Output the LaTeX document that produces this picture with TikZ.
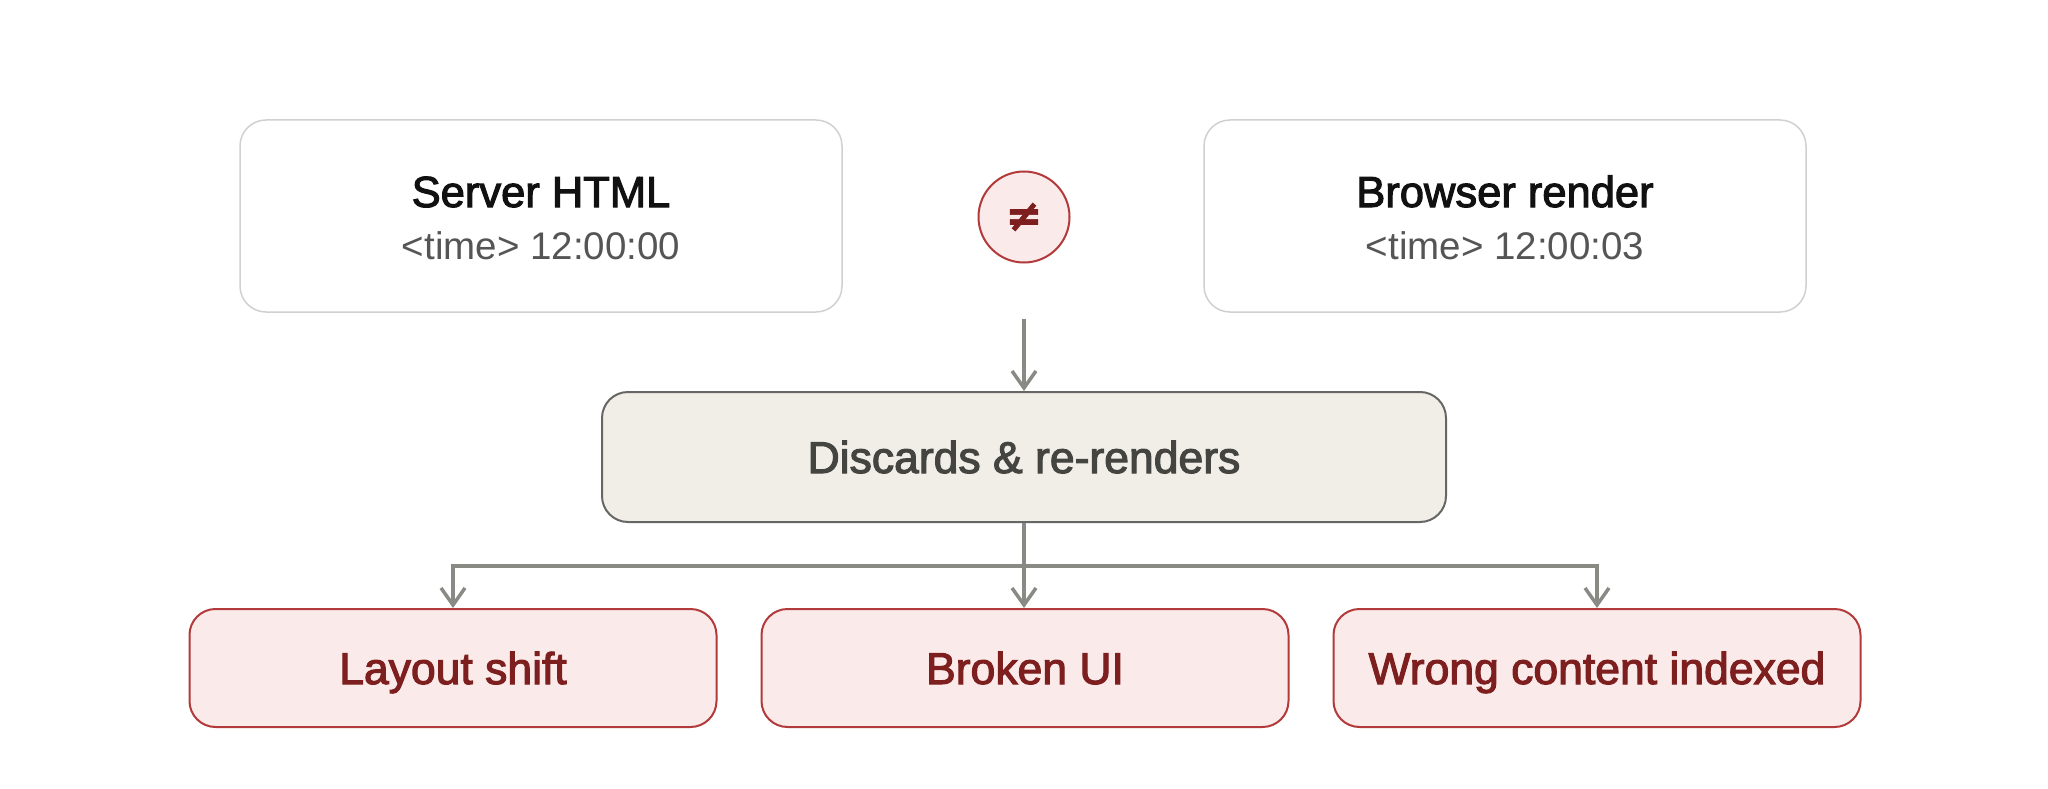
\documentclass[tikz,border=0pt]{standalone}
\usepackage{fontspec}
\setmainfont{Liberation Sans}
\newfontfamily\medfont[FakeBold=2.5]{Liberation Sans}
\newfontfamily\symfont[FakeBold=1.5]{DejaVu Sans Bold}
\usetikzlibrary{arrows.meta}
\definecolor{topborder}{HTML}{D0D0D0}
\definecolor{titlecol}{HTML}{111111}
\definecolor{subcol}{HTML}{555555}
\definecolor{pinkfill}{HTML}{FBEAEA}
\definecolor{redborder}{HTML}{B23A3A}
\definecolor{redtext}{HTML}{7D1F1F}
\definecolor{beigefill}{HTML}{F1EEE8}
\definecolor{beigeborder}{HTML}{666664}
\definecolor{beigetext}{HTML}{444441}
\definecolor{arrowcol}{HTML}{8A8A85}
\tikzset{
  captext/.style={text height=32pt, text depth=0pt},
  topbox/.style={draw=topborder, line width=1.5pt, fill=white, rounded corners=26pt,
    minimum width=602pt, minimum height=192pt, inner sep=0pt},
  midbox/.style={draw=beigeborder, line width=2pt, fill=beigefill, rounded corners=26pt,
    minimum width=844pt, minimum height=130pt, inner sep=0pt, captext,
    font=\medfont\fontsize{44.5pt}{50pt}\selectfont, text=beigetext},
  effbox/.style={draw=redborder, line width=2pt, fill=pinkfill, rounded corners=26pt,
    minimum width=527pt, minimum height=118pt, inner sep=0pt, captext,
    font=\medfont\fontsize{44.5pt}{50pt}\selectfont, text=redtext},
  neqcircle/.style={circle, draw=redborder, line width=2pt, fill=pinkfill,
    minimum size=91pt, inner sep=0pt, font=\symfont\fontsize{44pt}{50pt}\selectfont, text=redtext},
  titletext/.style={font=\medfont\fontsize{43.5pt}{50pt}\selectfont, text=titlecol, inner sep=0pt, captext},
  subtext/.style={font=\fontsize{38.5pt}{44pt}\selectfont, text=subcol, inner sep=0pt, text height=28pt, text depth=0pt},
  flow/.style={draw=arrowcol, line width=3.5pt, -{Straight Barb[length=17pt,width=24pt]}},
}
\begin{document}
\begin{tikzpicture}[x=1pt,y=-1pt]
\useasboundingbox (0,0) rectangle (2048,789);
\node[topbox] (server) at (541,216) {};
\node[titletext] (servertitle) at (541,191) {Server HTML};
\node[subtext] (serversub) at (541,245) {<time> 12:00:00};
\node[topbox] (browser) at (1505,216) {};
\node[titletext] (browsertitle) at (1505,191) {Browser render};
\node[subtext] (browsersub) at (1505,245) {<time> 12:00:03};
\node[neqcircle] (neq) at (1024,217) {≠};
\coordinate (mergept) at (1024,319);
\node[midbox] (disc) at (1024,457) {Discards \& re-renders};
\node[effbox] (layout) at (453,668) {Layout shift};
\node[effbox] (broken) at (1025,668) {Broken UI};
\node[effbox] (wrong) at (1597,668) {Wrong content indexed};
\draw[flow] (mergept) -- (disc.north);
\draw[flow] (disc.south) -- (disc.south |- broken.north);
\draw[flow] (disc.south) -- ++(0,43) -| (layout.north);
\draw[flow] (disc.south) -- ++(0,43) -| (wrong.north);
\end{tikzpicture}
\end{document}
